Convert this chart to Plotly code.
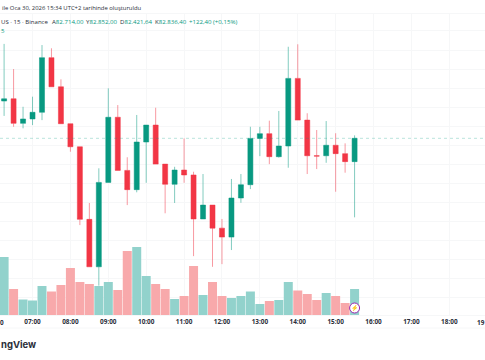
import plotly.graph_objects as go

times = ["06:15","06:30","06:45","07:00","07:15","07:30","07:45","08:00","08:15","08:30","08:45","09:00","09:15","09:30","09:45",
         "10:00","10:15","10:30","10:45","11:00","11:15","11:30","11:45","12:00","12:15","12:30","12:45","13:00","13:15","13:30",
         "13:45","14:00","14:15","14:30","14:45","15:00","15:15","15:30"]
opens = [83032,83044,82915,82938,82973,83260,83107,82913,82792,82411,82162,82605,82947,82668,82567,82817,82906,82701,82595,82670,
         82644,82413,82486,82365,82318,82523,82593,82836,82861,82740,82796,83151,82932,82745,82745,82800,82756,82714]
highs = [83332,83200,83002,83055,83326,83309,83146,82913,82792,82497,82679,83099,83011,82737,82959,82906,82997,82701,82687,82836,
         82661,82649,82486,82413,82623,82649,82897,82897,82929,82980,83317,83330,82968,82880,82927,82863,82810,82852]
lows = [82954,82897,82889,82906,82932,83107,82913,82766,82381,82162,82063,82605,82668,82486,82553,82603,82701,82443,82497,82603,
        82218,82413,82162,82176,82250,82498,82570,82743,82701,82735,82682,82932,82649,82675,82708,82556,82656,82421.64]
closes = [83044,82915,82938,82973,83260,83107,82913,82792,82411,82162,82605,82947,82668,82567,82817,82906,82701,82595,82670,82644,
          82413,82486,82365,82318,82523,82593,82836,82861,82740,82796,83151,82932,82745,82743,82800,82756,82714,82836.4]
volumes = [58,26,15.5,14.5,29,23.5,30,47,33,31,29,33,25,64,68,39,31,26,16,19,49,20,33,19,17,19,23.5,11,14,15,33,24.5,21,15,22,19,12,26]
hour_ticks = ["07:00","08:00","09:00","10:00","11:00","12:00","13:00","14:00","15:00","16:00","17:00","18:00"]
title_text = "ile Oca 30, 2026 15:34 UTC+2 tarihinde oluşturuldu"
symbol_text = "US · 15 · Binance"
ohlc_labels = ["A", "Y", "D", "K"]
ohlc_values = ["82.714,00", "82.852,00", "82.421,64", "82.836,40"]
change_text = "+122,40 (+0,15%)"

DAY = "2026-01-30 "
GREEN, RED = "#089981", "#f23645"
WICK_G, WICK_R = "rgba(8,153,129,0.5)", "rgba(242,54,69,0.5)"
VOL_G, VOL_R = "#92d2cc", "#f8a9ab"
TEXT = "#2a2e39"
GRID = "#f6f7f8"
W, H, TOP, BOTTOM = 485, 360, 14, 45
PLOT_H = H - TOP - BOTTOM
dts = [DAY + t for t in times]

fig = go.Figure()
fig.add_trace(go.Bar(x=dts, y=volumes, yaxis="y2", width=15*60*1000*0.95,
                     marker=dict(color=[VOL_G if c >= o else VOL_R for o, c in zip(opens, closes)], line_width=0)))
fig.add_trace(go.Candlestick(x=dts, open=opens, high=highs, low=lows, close=closes,
                             increasing=dict(fillcolor=GREEN, line=dict(color=WICK_G, width=1)),
                             decreasing=dict(fillcolor=RED, line=dict(color=WICK_R, width=1))))
fig.add_trace(go.Scatter(x=[dts[-1]], y=[7], yaxis="y2", mode="markers+text", text=["⚡"],
                         textfont=dict(size=6, color="#9c27b0"), textposition="middle center",
                         marker=dict(size=10, color="white", line=dict(color="#9c27b0", width=1))))

def note(text, x, y, size=6.1, anchor="left", color=TEXT, family="Open Sans"):
    fig.add_annotation(text=text, x=x/W, y=1-(y-TOP)/PLOT_H, xref="paper", yref="paper", showarrow=False,
                       xanchor=anchor, yanchor="middle", borderpad=0, borderwidth=0,
                       font=dict(size=size, color=color, family=family))

note(title_text, 2, 8, size=5.9)
note(symbol_text, 1, 22)
for lab, val, px in zip(ohlc_labels, ohlc_values, [52, 86, 120, 155]):
    note(f"{lab}<span style='color:{GREEN}'>{val}</span>", px, 22)
note(change_text, 189, 22, color=GREEN)
note("5", 1, 30, color=GREEN)
note("<b>ngView</b>", 1, 345, size=9.5, family="Inter")
note("<b>0</b>", 0, 322, size=6.4)
note("<b>19</b>", 485, 322, size=6.4, anchor="right")

fig.add_shape(type="line", xref="paper", x0=0, x1=1, yref="y", y0=closes[-1], y1=closes[-1],
              line=dict(color="rgba(8,153,129,0.28)", width=1, dash="dot"))
fig.add_shape(type="line", xref="paper", x0=0, x1=1, yref="paper", y0=-13/PLOT_H, y1=-13/PLOT_H,
              line=dict(color=GRID, width=1))

fig.update_layout(
    width=W, height=H, margin=dict(l=0, r=0, t=TOP, b=BOTTOM), showlegend=False,
    paper_bgcolor="white", plot_bgcolor="white", boxgap=0.24,
    xaxis=dict(type="date", range=[DAY + "06:08:30", DAY + "18:56:30"], rangeslider_visible=False,
               tickvals=[DAY + t for t in hour_ticks], ticktext=[f"<b>{t}</b>" for t in hour_ticks],
               showgrid=True, gridcolor=GRID, gridwidth=1, showline=True, linecolor=GRID, mirror=True,
               tickfont=dict(size=6.4, color=TEXT, family="Open Sans"), ticks="", ticklen=0, zeroline=False),
    yaxis=dict(range=[81909, 83489], dtick=100, showticklabels=False, showgrid=True, gridcolor=GRID,
               gridwidth=1, zeroline=False),
    yaxis2=dict(overlaying="y", range=[0, 301], showticklabels=False, showgrid=False, zeroline=False),
)
fig.write_html("out.html", config=dict(displayModeBar=False))
page = open("out.html", encoding="utf-8").read().replace("<body>", '<body style="margin:0;overflow:hidden">', 1)
open("out.html", "w", encoding="utf-8").write(page)
